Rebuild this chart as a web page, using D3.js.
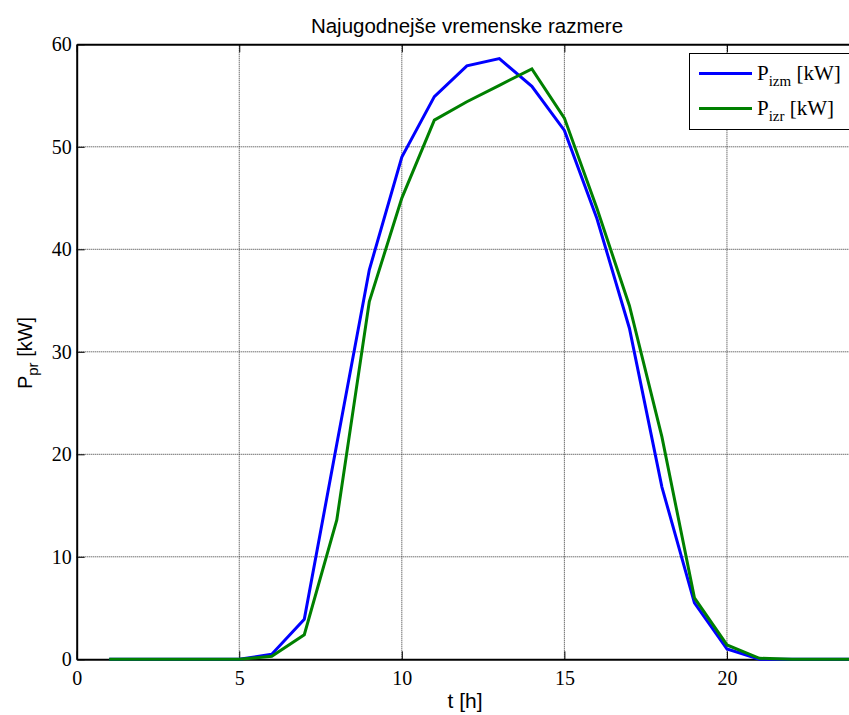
<!DOCTYPE html>
<html>
<head>
<meta charset="utf-8">
<script src="https://cdn.jsdelivr.net/npm/d3@7"></script>
<style>
  body { margin: 0; background: #fff; overflow: hidden; }
  svg { display: block; }
</style>
</head>
<body>
<div id="chart"></div>
<script>
  // hours of the day
  var hours = [1, 2, 3, 4, 5, 6, 7, 8, 9, 10, 11, 12,
               13, 14, 15, 16, 17, 18, 19, 20, 21, 22, 23, 24];
  // measured power
  var pIzm = [0, 0, 0, 0, 0, 0.5, 3.9, 21, 38, 49, 54.9, 57.9,
              58.6, 55.9, 51.6, 43, 32.3, 16.8, 5.5, 1.0, 0, 0, 0, 0];
  // calculated power
  var pIzr = [0, 0, 0, 0, 0, 0.3, 2.4, 13.6, 34.9, 45, 52.6, 54.4,
              56, 57.6, 52.8, 44, 34.5, 21.7, 6, 1.4, 0.1, 0, 0, 0];
  var xTicks = [0, 5, 10, 15, 20];
  var yTicks = [0, 10, 20, 30, 40, 50, 60];

  (function () {
    'use strict';

    var width = 849, height = 715;
    var plotL = 76.7, plotR = 857, plotT = 44.3, plotB = 659.3;
    var sans = '"Liberation Sans", Arial, sans-serif';
    var serif = '"Liberation Serif", "Times New Roman", serif';

    var svg = d3.select('#chart').append('svg')
      .attr('width', width)
      .attr('height', height);

    var x = d3.scaleLinear().domain([0, 24]).range([plotL, plotR]);
    var y = d3.scaleLinear().domain([0, 60]).range([plotB, plotT]);

    // grid
    var grid = svg.append('g');
    grid.selectAll('line.gx')
      .data(xTicks.filter(function(d) { return d > 0; }))
      .enter().append('line')
      .attr('x1', function(d) { return x(d); })
      .attr('x2', function(d) { return x(d); })
      .attr('y1', plotT)
      .attr('y2', plotB)
      .style('stroke', '#333')
      .style('stroke-width', 1)
      .style('stroke-dasharray', '1,1');
    grid.selectAll('line.gy')
      .data(yTicks.filter(function(d) { return d > 0 && d < 60; }))
      .enter().append('line')
      .attr('x1', plotL)
      .attr('x2', plotR)
      .attr('y1', function(d) { return y(d); })
      .attr('y2', function(d) { return y(d); })
      .style('stroke', '#333')
      .style('stroke-width', 1)
      .style('stroke-dasharray', '1,1');

    // axes (MATLAB style, ticks inside)
    var xAxis = svg.append('g')
      .attr('transform', 'translate(0,' + plotB + ')')
      .call(d3.axisBottom(x).tickValues(xTicks).tickSizeInner(-8)
            .tickSizeOuter(0).tickPadding(12));
    var xAxisTop = svg.append('g')
      .attr('transform', 'translate(0,' + plotT + ')')
      .call(d3.axisTop(x).tickValues(xTicks).tickSizeInner(-8)
            .tickSizeOuter(0).tickFormat(''));
    var yAxis = svg.append('g')
      .attr('transform', 'translate(' + plotL + ',0)')
      .call(d3.axisLeft(y).tickValues(yTicks).tickSizeInner(-8)
            .tickSizeOuter(0).tickPadding(5));

    [xAxis, xAxisTop, yAxis].forEach(function(a) {
      a.select('.domain').style('stroke', '#000').style('stroke-width', 2);
      a.selectAll('.tick line').style('stroke', '#000');
      a.selectAll('.tick text')
        .attr('fill', '#000')
        .style('font-family', serif)
        .style('font-size', '20px');
    });

    // lines
    var line = function(values) {
      return d3.line()
        .x(function(d, i) { return x(hours[i]); })
        .y(function(d) { return y(d); })(values);
    };
    svg.append('path')
      .attr('d', line(pIzm))
      .style('fill', 'none')
      .style('stroke', '#0000ff')
      .style('stroke-width', 3);
    svg.append('path')
      .attr('d', line(pIzr))
      .style('fill', 'none')
      .style('stroke', '#008000')
      .style('stroke-width', 3);

    // title and labels
    svg.append('text')
      .attr('x', 467)
      .attr('y', 33)
      .attr('text-anchor', 'middle')
      .style('font-family', sans)
      .style('font-size', '20.5px')
      .text('Najugodnejše vremenske razmere');

    svg.append('text')
      .attr('x', 465)
      .attr('y', 708)
      .attr('text-anchor', 'middle')
      .style('font-family', sans)
      .style('font-size', '21px')
      .text('t [h]');

    var yl = svg.append('text')
      .attr('transform', 'translate(32,353) rotate(-90)')
      .attr('text-anchor', 'middle')
      .style('font-family', sans)
      .style('font-size', '20px');
    yl.append('tspan').text('P');
    yl.append('tspan').attr('dy', 6).style('font-size', '15px').text('pr');
    yl.append('tspan').attr('dy', -6).text(' [kW]');

    // legend
    var legend = svg.append('g');
    legend.append('rect')
      .attr('x', 689.5)
      .attr('y', 53.5)
      .attr('width', 180)
      .attr('height', 76)
      .style('fill', '#fff')
      .style('stroke', '#000')
      .style('stroke-width', 1);
    var items = [
      { name: 'izm', color: '#0000ff', y: 73.5 },
      { name: 'izr', color: '#008000', y: 108.5 }
    ];
    items.forEach(function(it) {
      legend.append('line')
        .attr('x1', 699)
        .attr('x2', 752)
        .attr('y1', it.y)
        .attr('y2', it.y)
        .style('stroke', it.color)
        .style('stroke-width', 3);
      var t = legend.append('text')
        .attr('x', 757)
        .attr('y', it.y + 6)
        .style('font-family', serif)
        .style('font-size', '21px');
      t.append('tspan').text('P');
      t.append('tspan').attr('dy', 6).style('font-size', '15px').text(it.name);
      t.append('tspan').attr('dy', -6).text(' [kW]');
    });
  })();
</script>
</body>
</html>
